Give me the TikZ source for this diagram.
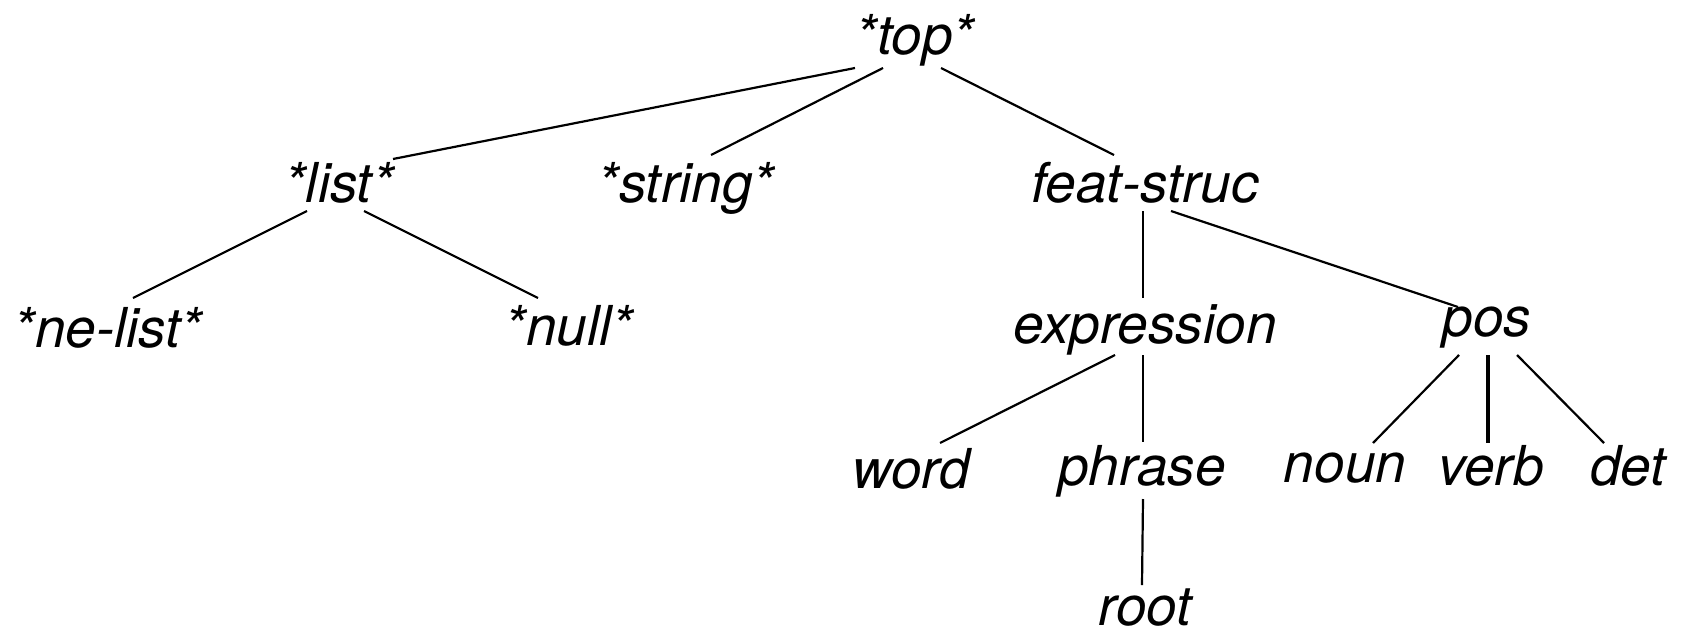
\documentclass[tikz,border=0pt]{standalone}
\usepackage{fontspec}
\setmainfont{TeX Gyre Heros}
\usetikzlibrary{calc}
\tikzset{
  type/.style={anchor=base, inner sep=0pt, font=\fontsize{55}{60}\selectfont\itshape},
  edge/.style={line width=2.2pt},
  heavyedge/.style={line width=3.4pt}
}
\begin{document}
\begin{tikzpicture}[x=1pt, y=-1pt]
\useasboundingbox (0,0) rectangle (1686,635);
% type hierarchy nodes (placed at their baselines)
\node[type] (top)    at (915,54)   {*top*};
\node[type] (list)   at (339,202)  {*list*};
\node[type] (string) at (686,202)  {*string*};
\node[type] (feat)   at (1145,202) {feat-struc};
\node[type] (nelist) at (108,347)  {*ne-list*};
\node[type] (null)   at (569,345)  {*null*};
\node[type] (expr)   at (1145,343) {expression};
\node[type] (pos)    at (1487,336) {pos};
\node[type] (word)   at (911,488)  {word};
\node[type] (phrase) at (1142,485) {phrase};
\node[type] (noun)   at (1345,482) {noun};
\node[type] (verb)   at (1491,485) {verb};
\node[type] (det)    at (1628,485) {det};
\node[type] (root)   at (1145,625) {root};
% subtype links
\draw[edge] ($(top.base)+(-60,14)$) -- ($(list.base)+(54,-43)$);
\draw[edge] ($(top.base)+(-32,14)$) -- ($(string.base)+(25,-47)$);
\draw[edge] ($(top.base)+(26,14)$)  -- ($(feat.base)+(-31,-47)$);
\draw[edge] ($(list.base)+(-32,9)$) -- ($(nelist.base)+(25,-49)$);
\draw[edge] ($(list.base)+(25,9)$)  -- ($(null.base)+(-31,-47)$);
\draw[edge] ($(feat.base)+(-2,9)$)  -- ($(expr.base)+(-2,-45)$);
\draw[edge] ($(feat.base)+(26,9)$)  -- ($(pos.base)+(-29,-29)$);
\draw[edge] ($(expr.base)+(-30,12)$) -- ($(word.base)+(29,-45)$);
\draw[edge] ($(expr.base)+(-2,12)$)  -- ($(phrase.base)+(1,-43)$);
\draw[edge] ($(pos.base)+(-28,19)$)  -- ($(noun.base)+(28,-39)$);
\draw[heavyedge] ($(pos.base)+(1,19)$) -- ($(verb.base)+(-3,-42)$);
\draw[edge] ($(pos.base)+(30,19)$)  -- ($(det.base)+(-24,-42)$);
\draw[edge] ($(phrase.base)+(1,14)$) -- ($(root.base)+(-3,-40)$);
\end{tikzpicture}
\end{document}
